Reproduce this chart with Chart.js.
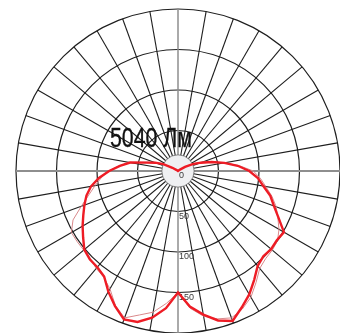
<!DOCTYPE html>
<html>
<head>
<meta charset="utf-8">
<script src="https://cdn.jsdelivr.net/npm/chart.js@4/dist/chart.umd.min.js"></script>
<style>
  html, body { margin: 0; padding: 0; background: #fff; }
  #wrap { width: 340px; height: 333px; }
</style>
</head>
<body>
<div id="wrap"><canvas id="Chart_ksf" width="340" height="333"></canvas></div>
<script>
// angles in degrees, 0 = straight down, going left (C0 side) then back up the right side
let angles = [];
for (let a = 0; a < 360; a += 5) angles.push(a + '°');

// cd/klm, left half 0..180, then right half 175..5
let curveC0 = [150,170,184,193,195,184,172,159,155,154,151,143,136,129,123,117,109,98,85,72,60,40,30,20,8,2,0,0,0,0,0,0,0,0,0,0,0,
               0,0,0,0,0,0,0,0,0,0,3,10,20,30,43,58,74,88,99,107,118,126,137,151,149,150,149,153,164,176,186,197,191,180,168];
let curveC90 = [150,164,177,184,193,183,168,160,157,153,152,152,152,143,127,114,104,95,86,73,60,42,31,21,9,2,0,0,0,0,0,0,0,0,0,0,0,
                0,0,0,0,0,0,0,0,0,0,4,12,22,32,44,58,76,93,102,110,120,129,136,144,150,152,153,157,168,180,188,193,189,182,170];

let ringLabels = [0, 50, 100, 150];
let fluxText = '5040 Лм';
let holeValue = 20;

const extras = {
    id: 'extras',
    beforeDatasetsDraw(chart) {
        const s = chart.scales.r;
        const ctx = chart.ctx;
        ctx.save();
        // grey hub in the middle, spokes end at its edge
        ctx.beginPath();
        ctx.arc(s.xCenter, s.yCenter, s.getDistanceFromCenterForValue(holeValue), 0, Math.PI * 2);
        ctx.fillStyle = '#eff0f2';
        ctx.fill();
        ctx.strokeStyle = '#666';
        ctx.lineWidth = 0.8;
        ctx.stroke();

        // ring values down the vertical axis
        ctx.font = '9px "Liberation Sans", Arial, sans-serif';
        ctx.fillStyle = '#3a3a3a';
        ctx.textAlign = 'left';
        ctx.textBaseline = 'middle';
        ringLabels.forEach(v => {
            let d = s.getDistanceFromCenterForValue(v);
            ctx.fillText(String(v), s.xCenter + 1, s.yCenter + d + 5);
        });

        // luminous flux, condensed look
        ctx.font = '28px "Liberation Sans", Arial, sans-serif';
        ctx.fillStyle = '#111';
        ctx.strokeStyle = '#111';
        ctx.lineWidth = 0.35;
        ctx.textBaseline = 'alphabetic';
        let w = ctx.measureText(fluxText).width;
        ctx.translate(s.xCenter - 68, s.yCenter - 24);
        ctx.scale(82 / w, 1);
        ctx.fillText(fluxText, 0, 0);
        ctx.strokeText(fluxText, 0, 0);
        ctx.restore();
    }
};

var chartData = {
    labels: angles,
    datasets: [
        {
            label: 'C0',
            data: curveC0,
            borderColor: '#ee1c25',
            borderWidth: 2.4,
            pointRadius: 0,
            fill: false,
            tension: 0
        },
        {
            label: 'C90',
            data: curveC90,
            borderColor: '#d9898b',
            borderWidth: 1,
            pointRadius: 0,
            fill: false,
            tension: 0
        }
    ]
};

var chartOptions = {
    responsive: false,
    devicePixelRatio: 1,
    animation: false,
    layout: { padding: { left: 16, right: 0, top: 9, bottom: 0 } },
    plugins: { legend: { display: false }, tooltip: { enabled: false } },
    scales: {
        r: {
            startAngle: 180,
            min: 0,
            max: 200,
            ticks: { display: false, stepSize: 50 },
            pointLabels: { display: false },
            grid: { circular: true, color: '#1e1e1e', lineWidth: 1.2 },
            angleLines: {
                color: c => c.index % 18 === 0 ? '#8e8e8e' : '#1e1e1e',
                lineWidth: c => c.index % 36 === 18 ? 2 : (c.index % 36 === 0 ? 1.5 : (c.index % 2 === 0 ? 1.1 : 0))
            }
        }
    }
};

new Chart(document.getElementById('Chart_ksf').getContext('2d'), {
    type: 'radar',
    data: chartData,
    options: chartOptions,
    plugins: [extras]
});
</script>
</body>
</html>
